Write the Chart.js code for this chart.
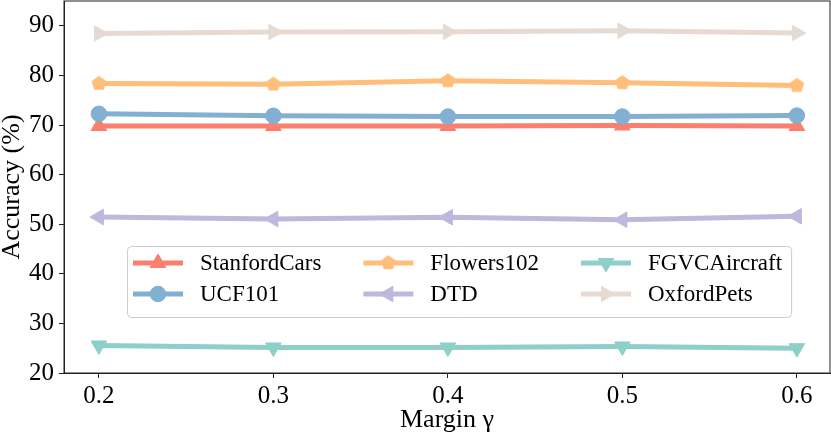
<!DOCTYPE html>
<html>
<head>
<meta charset="utf-8">
<script src="https://cdn.jsdelivr.net/npm/chart.js@4.4.0/dist/chart.umd.min.js"></script>
<style>
  body { margin: 0; background: #fff; }
  canvas { display: block; }
</style>
</head>
<body>
<canvas id="chart" width="831" height="437"></canvas>
<script>
const margins = [0.2, 0.3, 0.4, 0.5, 0.6];
const yTicks = [20, 30, 40, 50, 60, 70, 80, 90];

const stanfordCars = [69.8, 69.8, 69.8, 69.9, 69.8];
const ucf101 = [72.25, 71.85, 71.7, 71.7, 71.9];
const flowers102 = [78.35, 78.2, 78.9, 78.5, 77.95];
const dtd = [51.45, 51.05, 51.4, 50.9, 51.6];
const fgvcAircraft = [25.55, 25.15, 25.15, 25.35, 25.0];
const oxfordPets = [88.45, 88.75, 88.8, 89.0, 88.55];

const FONT = "'Liberation Serif', 'Times New Roman', serif";

// matplotlib-style pentagon marker, Chart.js has none
function pentagon(color, r) {
  const c = document.createElement("canvas");
  c.width = c.height = Math.ceil(r * 2 + 2);
  const g = c.getContext("2d");
  g.fillStyle = color;
  g.beginPath();
  for (let k = 0; k < 5; k++) {
    const a = -Math.PI / 2 + k * 2 * Math.PI / 5;
    const px = c.width / 2 + r * Math.cos(a);
    const py = c.height / 2 + r * Math.sin(a);
    k ? g.lineTo(px, py) : g.moveTo(px, py);
  }
  g.closePath();
  g.fill();
  return c;
}

function series(label, values, color, style, rotation, radius) {
  return {
    label: label,
    data: values.map((v, i) => ({ x: margins[i], y: v })),
    borderColor: color,
    backgroundColor: color,
    pointBackgroundColor: color,
    pointBorderColor: color,
    borderWidth: 5,
    pointBorderWidth: 1,
    pointStyle: style,
    pointRotation: rotation,
    pointRadius: radius,
    pointHoverRadius: radius,
    tension: 0,
  };
}

const datasets = [
  series("StanfordCars", stanfordCars, "#FA7F6F", "triangle", 0, 9),
  series("UCF101", ucf101, "#82B0D2", "circle", 0, 7.8),
  series("Flowers102", flowers102, "#FFBE7A", pentagon("#FFBE7A", 7.8), 0, 7.8),
  series("DTD", dtd, "#BEB8DC", "triangle", 270, 9),
  series("FGVCAircraft", fgvcAircraft, "#8ECFC9", "triangle", 180, 9),
  series("OxfordPets", oxfordPets, "#E7DAD2", "triangle", 90, 9),
];
// later series on top, like matplotlib
datasets.forEach((d, i) => { d.order = datasets.length - i; });

const frame = {
  id: "frame",
  afterDatasetsDraw(chart) {
    const { ctx, chartArea: a } = chart;
    ctx.save();
    ctx.strokeStyle = "#222";
    ctx.lineWidth = 1;
    ctx.strokeRect(a.left, a.top, a.right - a.left, a.bottom - a.top);
    ctx.restore();
  },
};

const legendBox = {
  id: "legendBox",
  afterDraw(chart) {
    const ctx = chart.ctx;
    const sets = chart.data.datasets;
    ctx.save();
    ctx.font = "23px " + FONT;
    const left = 127, top = 246, rowH = 31, handle = 50, pad = 17, gap = 42;
    const cols = Math.ceil(sets.length / 2);
    const colX = [];
    let x = left + 6;
    for (let c = 0; c < cols; c++) {
      colX.push(x);
      let w = 0;
      for (let r = 0; r < 2; r++) {
        const d = sets[c * 2 + r];
        if (d) w = Math.max(w, ctx.measureText(d.label).width);
      }
      x += handle + pad + w + (c < cols - 1 ? gap : 0);
    }
    const right = x + 9;
    const bottom = top + 71;
    ctx.fillStyle = "rgba(255,255,255,0.8)";
    ctx.strokeStyle = "#cccccc";
    ctx.lineWidth = 1;
    ctx.beginPath();
    ctx.roundRect(left + 0.5, top + 0.5, right - left, bottom - top, 4);
    ctx.fill();
    ctx.stroke();

    sets.forEach((d, i) => {
      const cx = colX[Math.floor(i / 2)];
      const cy = top + 17 + (i % 2) * rowH;
      ctx.strokeStyle = d.borderColor;
      ctx.lineWidth = d.borderWidth;
      ctx.beginPath();
      ctx.moveTo(cx, cy);
      ctx.lineTo(cx + handle, cy);
      ctx.stroke();
      ctx.fillStyle = d.pointBackgroundColor;
      ctx.strokeStyle = d.pointBorderColor;
      ctx.lineWidth = d.pointBorderWidth;
      Chart.helpers.drawPoint(ctx, {
        pointStyle: d.pointStyle,
        rotation: d.pointRotation,
        radius: d.pointRadius,
        borderWidth: d.pointBorderWidth,
      }, cx + handle / 2, cy);
      ctx.fillStyle = "#000";
      ctx.textAlign = "left";
      ctx.textBaseline = "middle";
      ctx.fillText(d.label, cx + handle + pad, cy + 1);
    });
    ctx.restore();
  },
};

new Chart(document.getElementById("chart"), {
  type: "line",
  data: { datasets: datasets },
  plugins: [frame, legendBox],
  options: {
    responsive: false,
    animation: false,
    layout: { autoPadding: false, padding: { top: 1, right: 1, left: 0, bottom: 0 } },
    plugins: { legend: { display: false }, tooltip: { enabled: false } },
    scales: {
      x: {
        type: "linear",
        min: 0.18,
        max: 0.619,
        afterBuildTicks: (s) => { s.ticks = margins.map((v) => ({ value: v })); },
        afterFit: (s) => { s.height = 64; s.paddingLeft = 0; s.paddingRight = 0; },
        ticks: {
          color: "#000",
          padding: 3,
          font: { family: FONT, size: 25 },
          callback: (v) => v.toFixed(1),
          maxRotation: 0,
        },
        grid: { drawOnChartArea: false, tickLength: 5, color: "#222" },
        border: { color: "#222", width: 1 },
        title: {
          display: true,
          text: "Margin γ",
          color: "#000",
          font: { family: FONT, size: 26, lineHeight: 1 },
          padding: { top: 0, bottom: 4 },
        },
      },
      y: {
        min: 20,
        max: 95,
        afterBuildTicks: (s) => { s.ticks = yTicks.map((v) => ({ value: v })); },
        afterFit: (s) => { s.width = 64; s.paddingTop = 0; s.paddingBottom = 0; },
        ticks: {
          color: "#000",
          padding: 5,
          font: { family: FONT, size: 25 },
        },
        grid: { drawOnChartArea: false, tickLength: 5, color: "#222" },
        border: { color: "#222", width: 1 },
        title: {
          display: true,
          text: "Accuracy (%)",
          color: "#000",
          font: { family: FONT, size: 26, lineHeight: 0.9 },
          padding: { top: 0, bottom: 0 },
        },
      },
    },
  },
});
</script>
</body>
</html>
